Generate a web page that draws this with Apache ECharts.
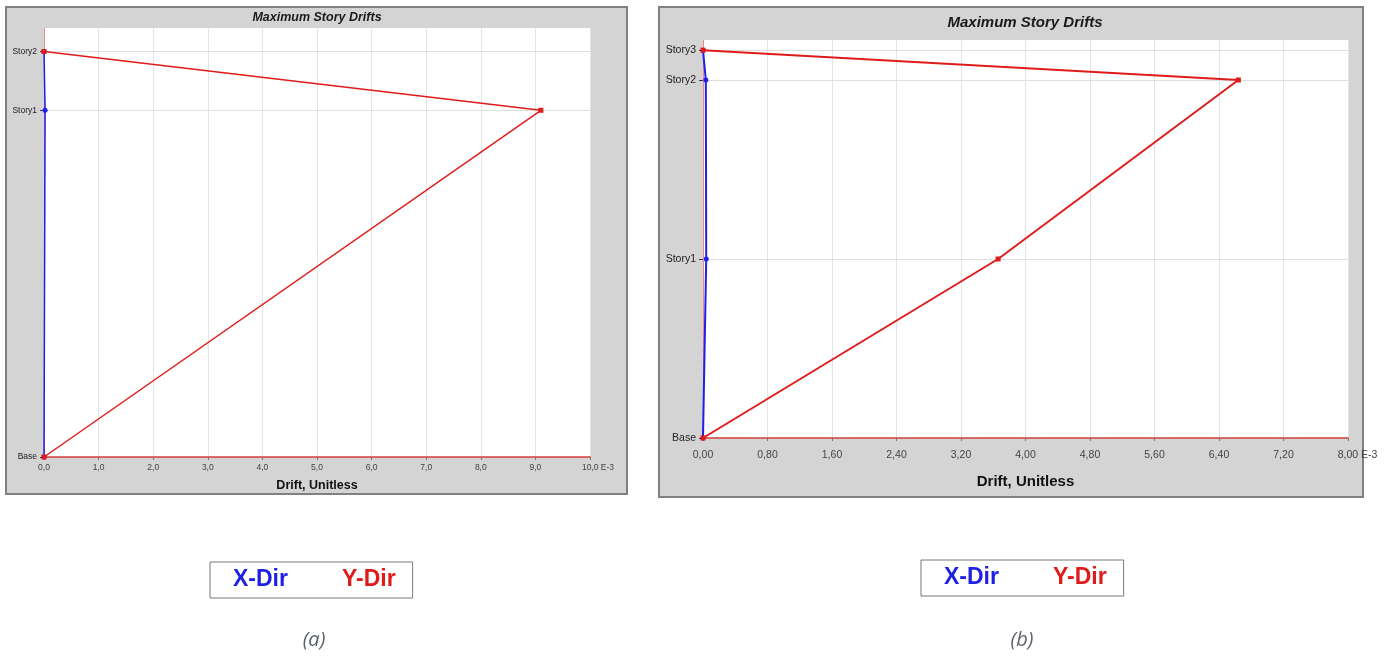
<!DOCTYPE html>
<html>
<head>
<meta charset="utf-8">
<script src="https://cdn.jsdelivr.net/npm/echarts@6/dist/echarts.min.js"></script>
<style>
  html, body { margin: 0; padding: 0; background: #ffffff; }
  #chart { width: 1397px; height: 658px; }
</style>
</head>
<body>
<div id="chart"></div>
<script>
// Model (a): two storeys
const storiesA = ['Base', 'Story1', 'Story2'];
const elevA = [0, 5.9, 6.9];
const xDirA = [0, 0.02, 0.0];      // drift x 1E-3
const yDirA = [0, 9.10, 0.0];
const xTicksA = { min: 0, max: 10, step: 1, digits: 1 };

// Model (b): three storeys
const storiesB = ['Base', 'Story1', 'Story2', 'Story3'];
const elevB = [0, 3, 6, 6.5];
const xDirB = [0, 0.04, 0.035, 0.0];
const yDirB = [0, 3.66, 6.64, 0.0];
const xTicksB = { min: 0, max: 8, step: 0.8, digits: 2 };

const chartTitle = 'Maximum Story Drifts';
const axisTitle = 'Drift, Unitless';
const captions = ['(a)', '(b)'];

const BLUE = '#1f1fe6';
const RED = '#e01b1b';
const FONT = 'Liberation Sans, Arial, sans-serif';

function pairs(xs, ys) { return xs.map((v, i) => [v, ys[i]]); }

function xAxisFor(idx, t, fs, nameFs, nameGap, labelMargin, padW) {
  return {
    type: 'value', gridIndex: idx, min: t.min, max: t.max, interval: t.step,
    name: axisTitle, nameLocation: 'middle', nameGap: nameGap,
    nameTextStyle: { fontFamily: FONT, fontWeight: 'bold', fontSize: nameFs, color: '#111' },
    axisLine: { show: true, lineStyle: { color: '#d83a3a', width: 1.5 } },
    axisTick: { show: true, length: 3, lineStyle: { color: '#777' } },
    splitLine: { show: true, lineStyle: { color: '#e4e4e4', width: 1 } },
    axisLabel: {
      fontFamily: FONT, fontSize: fs, color: '#444', margin: labelMargin,
      formatter: function (v) {
        const s = v.toFixed(t.digits).replace('.', ',');
        return Math.abs(v - t.max) < 1e-9 ? '{p|}' + s + ' E-3' : s;
      },
      rich: { p: { width: padW } }
    }
  };
}

function yAxisFor(idx, names, elev, top, fs) {
  return {
    type: 'value', gridIndex: idx, min: 0, max: top,
    axisLine: { show: true, lineStyle: { color: '#ef8a8a', width: 1 } },
    axisTick: { show: true, length: 4, customValues: elev, lineStyle: { color: '#333' } },
    splitLine: { show: false },
    axisLabel: {
      customValues: elev, fontFamily: FONT, fontSize: fs, color: '#222', margin: 7,
      formatter: function (v) {
        const i = elev.findIndex(e => Math.abs(e - v) < 1e-9);
        return i >= 0 ? names[i] : '';
      }
    }
  };
}

function storyLines(elev) {
  return {
    silent: true, symbol: 'none', z: 1,
    label: { show: false },
    lineStyle: { color: '#dedede', width: 1, type: 'solid' },
    data: elev.slice(1).map(e => ({ yAxis: e }))
  };
}

function lineSeries(name, idx, data, color, symbol, width, marks) {
  const s = {
    name: name, type: 'line', xAxisIndex: idx, yAxisIndex: idx,
    data: data, symbol: symbol, symbolSize: 5, showAllSymbol: true,
    lineStyle: { color: color, width: width },
    itemStyle: { color: color },
    z: 3, animation: false
  };
  if (marks) s.markLine = marks;
  return s;
}

function legendAt(left, top) {
  return {
    left: left, top: top, orient: 'horizontal',
    itemWidth: 0, itemHeight: 0, itemGap: 48,
    padding: [5, 17, 5, 17],
    borderColor: '#777', borderWidth: 1, backgroundColor: '#fff',
    selectedMode: false,
    itemStyle: { opacity: 0 }, lineStyle: { opacity: 0 },
    textStyle: { fontFamily: FONT, fontWeight: 'bold', fontSize: 23, lineHeight: 26 },
    data: [
      { name: 'X-Dir', textStyle: { color: BLUE } },
      { name: 'Y-Dir', textStyle: { color: RED } }
    ]
  };
}

const chart = echarts.init(document.getElementById('chart'), null, { renderer: 'canvas' });

chart.setOption({
  animation: false,
  backgroundColor: '#ffffff',
  graphic: [
    { type: 'rect', z: -10, shape: { x: 6, y: 7, width: 621, height: 487 },
      style: { fill: '#d4d4d4', stroke: '#808080', lineWidth: 2 } },
    { type: 'rect', z: -10, shape: { x: 659, y: 7, width: 704, height: 490 },
      style: { fill: '#d4d4d4', stroke: '#808080', lineWidth: 2 } }
  ],
  title: [
    { text: chartTitle, left: 317, top: 11, textAlign: 'center', padding: 0,
      textStyle: { fontFamily: FONT, fontSize: 12.5, fontWeight: 'bold', fontStyle: 'italic', color: '#1a1a1a' } },
    { text: chartTitle, left: 1025, top: 15, textAlign: 'center', padding: 0,
      textStyle: { fontFamily: FONT, fontSize: 15, fontWeight: 'bold', fontStyle: 'italic', color: '#1a1a1a' } },
    { text: captions[0], left: 314, top: 630, textAlign: 'center', padding: 0,
      textStyle: { fontFamily: 'Open Sans, sans-serif', fontSize: 20, fontWeight: 'normal', fontStyle: 'italic', color: '#5a5f6b' } },
    { text: captions[1], left: 1022, top: 630, textAlign: 'center', padding: 0,
      textStyle: { fontFamily: 'Open Sans, sans-serif', fontSize: 20, fontWeight: 'normal', fontStyle: 'italic', color: '#5a5f6b' } }
  ],
  legend: [legendAt(210, 562), legendAt(921, 560)],
  grid: [
    { left: 44, right: 807, top: 28, bottom: 201, show: true, backgroundColor: '#ffffff', borderWidth: 0 },
    { left: 703, right: 49, top: 40, bottom: 220, show: true, backgroundColor: '#ffffff', borderWidth: 0 }
  ],
  xAxis: [
    xAxisFor(0, xTicksA, 8.5, 12.5, 22, 6, 16),
    xAxisFor(1, xTicksB, 10.5, 15, 36, 12, 19)
  ],
  yAxis: [
    yAxisFor(0, storiesA, elevA, 7.3, 8.5),
    yAxisFor(1, storiesB, elevB, 6.67, 10.5)
  ],
  // X-Dir first so the Y-Dir trace sits on top where they meet
  series: [
    lineSeries('X-Dir', 0, pairs(xDirA, elevA), BLUE, 'circle', 1.5, storyLines(elevA)),
    lineSeries('Y-Dir', 0, pairs(yDirA, elevA), RED, 'rect', 1.5),
    lineSeries('X-Dir', 1, pairs(xDirB, elevB), BLUE, 'circle', 2, storyLines(elevB)),
    lineSeries('Y-Dir', 1, pairs(yDirB, elevB), RED, 'rect', 2)
  ]
});
</script>
</body>
</html>
